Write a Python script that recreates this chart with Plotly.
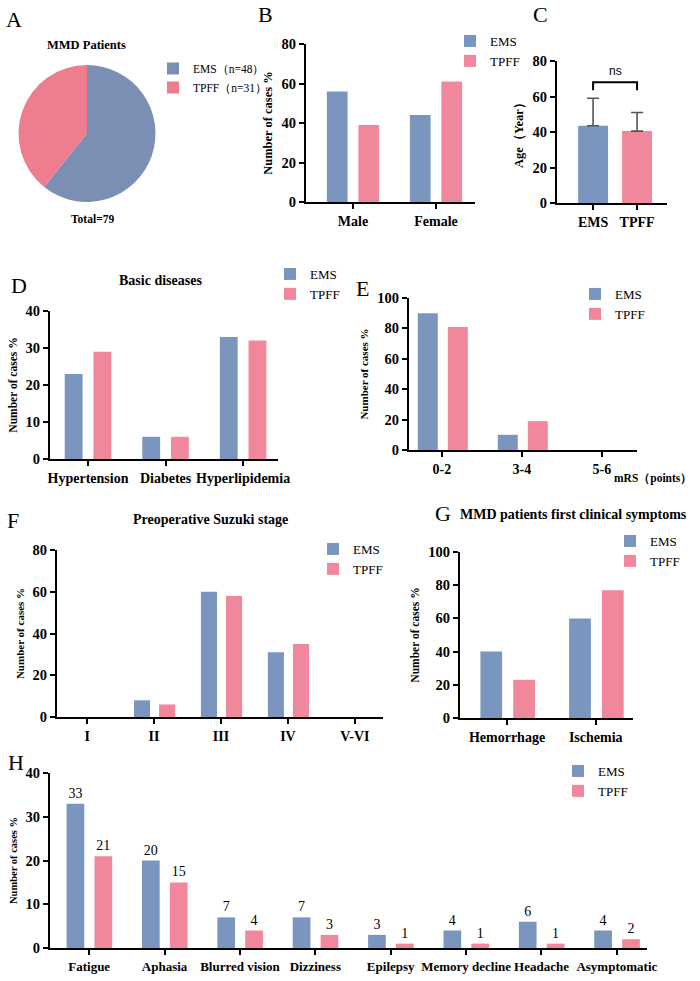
import plotly.graph_objects as go

W, H = 700, 981
BLUE = "#7b96be"
PINK = "#f0879a"
PIE_BLUE = "#7b8fb5"
PIE_PINK = "#ee7d8f"
SERIF = "Liberation Serif, Times New Roman, serif"

# ---------------- data ----------------
pie_labels = ["EMS（n=48）", "TPFF（n=31）"]
pie_values = [48, 31]

sex_cats = ["Male", "Female"]
sex_ems = [56, 44]
sex_tpff = [39, 61]

age_groups = ["EMS", "TPFF"]
age_mean = [43.5, 40.5]
age_sd = [15.5, 10.5]

dis_cats = ["Hypertension", "Diabetes", "Hyperlipidemia"]
dis_ems = [23, 6, 33]
dis_tpff = [29, 6, 32]

mrs_cats = ["0-2", "3-4", "5-6"]
mrs_ems = [90, 10, 0]
mrs_tpff = [81, 19, 0]

suz_cats = ["I", "II", "III", "IV", "V-VI"]
suz_ems = [0, 8, 60, 31, 0]
suz_tpff = [0, 6, 58, 35, 0]

sym_cats = ["Hemorrhage", "Ischemia"]
sym_ems = [40, 60]
sym_tpff = [23, 77]

cli_cats = ["Fatigue", "Aphasia", "Blurred vision", "Dizziness", "Epilepsy",
            "Memory decline", "Headache", "Asymptomatic"]
cli_ems = [33, 20, 7, 7, 3, 4, 6, 4]
cli_tpff = [21, 15, 4, 3, 1, 1, 1, 2]


def px_x(x):
    return x / W


def px_y(y):
    return 1 - y / H


def dom(x0, x1, ytop, ybot):
    return [px_x(x0), px_x(x1)], [px_y(ybot), px_y(ytop)]


fig = go.Figure()

# ---------------- A: pie ----------------
fig.add_trace(go.Pie(
    labels=pie_labels, values=pie_values, sort=False, direction="clockwise",
    marker=dict(colors=[PIE_BLUE, PIE_PINK], line=dict(width=0)),
    textinfo="none", hoverinfo="label+value",
    domain=dict(x=[px_x(18), px_x(156)], y=[px_y(202), px_y(65)]),
    legend="legend", showlegend=True,
))

# panel specs
panels = [
    (2, sex_cats, sex_ems, sex_tpff, 306, 475, 44, 202, [-0.566, 1.47], [0, 80], 20, -0.315, 0.065, 0.25, "legend2"),
    (4, dis_cats, dis_ems, dis_tpff, 50, 278, 311, 459, [-0.49, 2.45], [0, 40], 10, -0.30, 0.07, 0.23, "legend3"),
    (5, mrs_cats, mrs_ems, mrs_tpff, 409, 637, 298, 450, [-0.41, 2.44], [0, 100], 20, -0.30, 0.075, 0.25, "legend4"),
    (6, suz_cats, suz_ems, suz_tpff, 57, 383, 550, 717, [-0.45, 4.42], [0, 80], 20, -0.30, 0.075, 0.24, "legend5"),
    (7, sym_cats, sym_ems, sym_tpff, 460, 633, 552, 718, [-0.53, 1.42], [0, 100], 20, -0.30, 0.07, 0.245, "legend6"),
    (8, cli_cats, cli_ems, cli_tpff, 50, 647, 773, 948, [-0.52, 7.40], [0, 40], 10, -0.30, 0.07, 0.235, "legend7"),
]

axis_common = dict(
    showline=True, linecolor="black", linewidth=2, ticks="outside", ticklen=5,
    tickwidth=2, tickcolor="black", showgrid=False, zeroline=False,
    fixedrange=True, automargin=False,
)
layout_axes = {}

ytitle_sizes = {2: 12.5, 4: 11.5, 5: 11, 6: 11, 7: 11.5, 8: 10.5}

for (i, cats, ems, tpff, x0, x1, yt, yb, xr, yr, dt, eo, to, bw, leg) in panels:
    xd, yd = dom(x0, x1, yt, yb)
    xa = "x%d" % i
    ya = "y%d" % i
    is_h = (i == 8)
    common_bar = dict(x=cats, xaxis=xa, yaxis=ya, width=bw, legend=leg, cliponaxis=False)
    if is_h:
        common_bar.update(textposition="outside",
                          textfont=dict(family=SERIF, size=14, color="black"))
    fig.add_trace(go.Bar(y=ems, name="EMS", offset=eo, marker=dict(color=BLUE, line=dict(width=0)),
                         text=ems if is_h else None, **common_bar))
    fig.add_trace(go.Bar(y=tpff, name="TPFF", offset=to, marker=dict(color=PINK, line=dict(width=0)),
                         text=tpff if is_h else None, **common_bar))
    layout_axes["xaxis%d" % i] = dict(
        axis_common, domain=xd, anchor=ya, type="category", range=xr, tickangle=0,
        tickfont=dict(family=SERIF, size=14 if i != 8 else 13, color="black", weight="bold"),
    )
    layout_axes["yaxis%d" % i] = dict(
        axis_common, domain=yd, anchor=xa, range=yr, dtick=dt,
        tickfont=dict(family=SERIF, size=14.5, color="black", weight="bold"),
        title=dict(text="Number of cases %",
                   font=dict(family=SERIF, size=ytitle_sizes[i], color="black", weight="bold"),
                   standoff=6),
    )

# ---------------- C: age ----------------
xd, yd = dom(557, 667, 61, 203)
fig.add_trace(go.Bar(
    x=age_groups, y=age_mean, xaxis="x3", yaxis="y3", width=0.68,
    marker=dict(color=[BLUE, PINK], line=dict(width=0)), showlegend=False,
    error_y=dict(type="data", symmetric=False, array=age_sd,
                 arrayminus=[0] * len(age_sd), color="#555555", thickness=1.6, width=6),
))
layout_axes["xaxis3"] = dict(axis_common, domain=xd, anchor="y3", type="category",
                             range=[-0.82, 1.68], tickangle=0,
                             tickfont=dict(family=SERIF, size=14, color="black", weight="bold"))
layout_axes["yaxis3"] = dict(axis_common, domain=yd, anchor="x3", range=[0, 80], dtick=20,
                             tickfont=dict(family=SERIF, size=14.5, color="black", weight="bold"),
                             title=dict(text="Age（Year）",
                                        font=dict(family=SERIF, size=12.5, color="black", weight="bold"),
                                        standoff=6))

tops = [m + s for m, s in zip(age_mean, age_sd)]
br_y = max(tops) + 9
fig.add_shape(type="path", xref="x3", yref="y3",
              path="M 0,%g L 0,%g L 1,%g L 1,%g" % (br_y - 4.5, br_y, br_y, br_y - 4.5),
              line=dict(color="black", width=2))

annotations = [
    dict(text="ns", x=0.5, y=br_y + 1.5, xref="x3", yref="y3", showarrow=False,
         yanchor="bottom", font=dict(family="Liberation Sans, Arial", size=12, color="black")),
]


def ann(text, x, y, size, bold=False, xanchor="center", family=SERIF):
    annotations.append(dict(
        text=text, x=px_x(x), y=px_y(y), xref="paper", yref="paper", showarrow=False,
        xanchor=xanchor, yanchor="middle",
        font=dict(family=family, size=size, color="black", weight="bold" if bold else "normal"),
    ))


# panel letters
for letter, x, y in [("A", 14, 20), ("B", 265, 15), ("C", 540, 15), ("D", 19, 285),
                     ("E", 362, 288), ("F", 13, 520), ("G", 443, 513), ("H", 16, 762)]:
    ann(letter, x, y, 22)

ann("MMD Patients", 86, 45, 12.5, bold=True)
ann("Total=79", 92, 219, 11.5, bold=True)
ann("Basic diseases", 160, 281, 14, bold=True)
ann("Preoperative Suzuki stage", 210, 519, 14, bold=True)
ann("MMD patients first clinical symptoms", 573, 514, 14, bold=True)
ann("mRS（points）", 612, 478, 11.5, bold=True, xanchor="left")

legend_common = dict(bgcolor="rgba(0,0,0,0)", borderwidth=0, xanchor="left",
                     yanchor="top", itemclick=False, itemdoubleclick=False,
                     font=dict(family=SERIF, size=13, color="black"),
                     tracegroupgap=0)
legends = {
    "legend": (153, 54),
    "legend2": (450, 26),
    "legend3": (270, 259),
    "legend4": (575, 279),
    "legend5": (313, 534),
    "legend6": (610, 526),
    "legend7": (558, 756),
}
legend_layout = {}
for name, (lx, ly) in legends.items():
    legend_layout[name] = dict(legend_common, x=px_x(lx), y=px_y(ly))
legend_layout["legend"]["font"] = dict(family=SERIF, size=11.5, color="black")

fig.update_layout(
    width=W, height=H, autosize=False,
    margin=dict(l=0, r=0, t=0, b=0, autoexpand=False),
    paper_bgcolor="white", plot_bgcolor="white",
    barmode="group",
    showlegend=True,
    annotations=annotations,
    **layout_axes,
    **legend_layout,
)

fig.write_html("out.html")
